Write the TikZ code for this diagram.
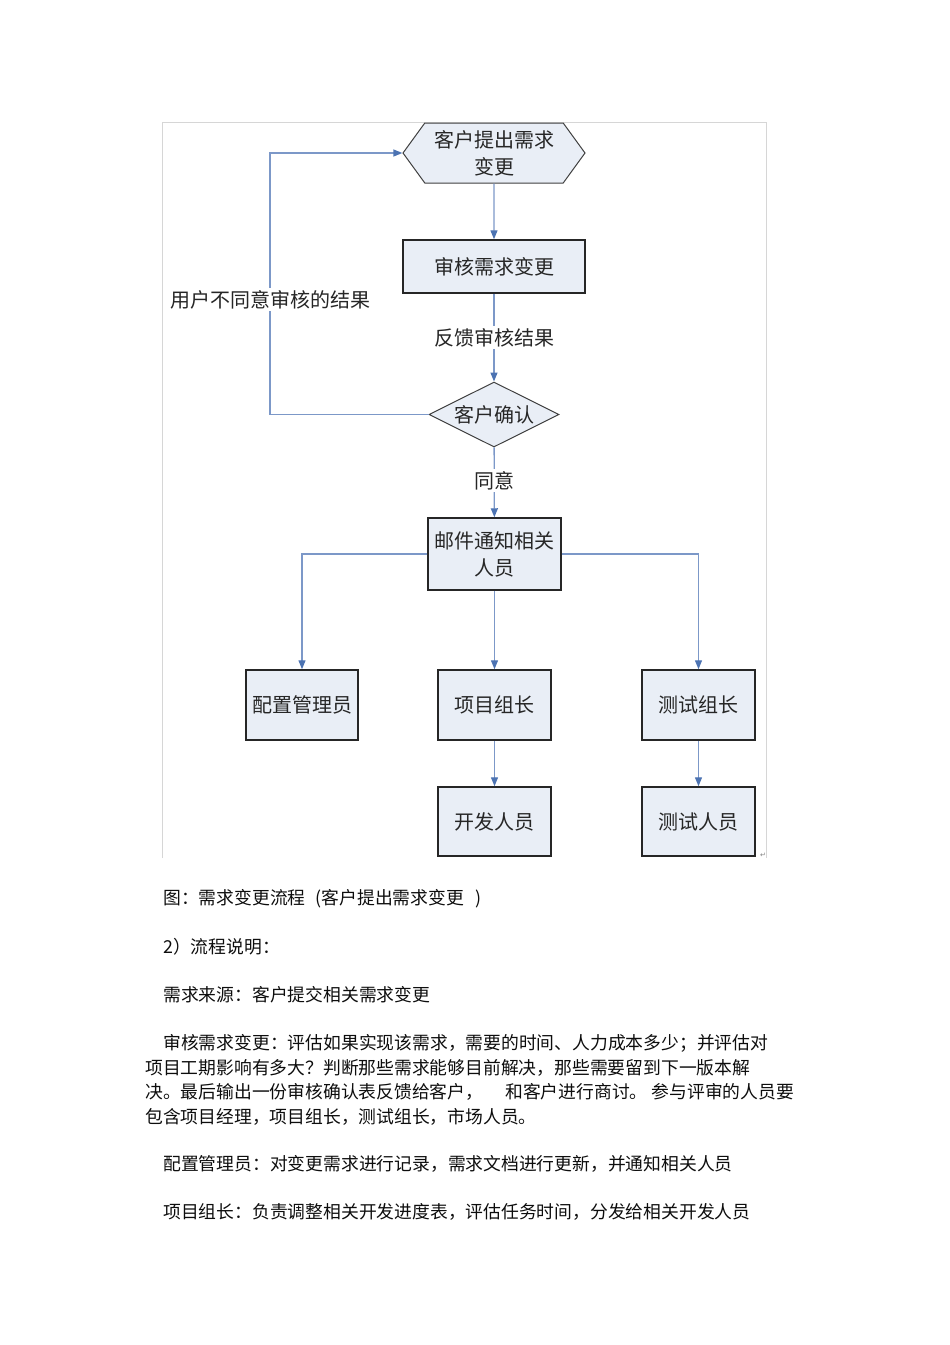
\documentclass[tikz,border=0pt]{standalone}
\usepackage{fontspec}
\setmainfont{Noto Sans CJK SC}
\newfontfamily\symfont{DejaVu Sans}
\usetikzlibrary{shapes.geometric,shapes.symbols,arrows.meta}
\definecolor{boxfill}{HTML}{E9EEF6}
\definecolor{flowblue}{HTML}{7C98C8}
\definecolor{tipblue}{HTML}{4C73B2}
\definecolor{framegray}{HTML}{D6D6D6}
\newcommand{\figfont}{\fontsize{20}{27}\selectfont}
\newcommand{\bodyfont}{\fontsize{17.8}{22}\selectfont}

\begin{document}
\begin{tikzpicture}[x=1pt,y=-1pt,
  flow/.style={draw=flowblue,line width=1.3pt,-{Triangle[length=9pt,width=7pt,color=tipblue]}},
  box/.style={draw=black!85,line width=1.5pt,fill=boxfill,minimum width=113,minimum height=70,inner sep=1pt,font=\figfont,text=black!85,align=center},
  hexa/.style={signal,signal to=east and west,signal pointer angle=108,draw=black!75,line width=1pt,fill=boxfill,minimum width=182,minimum height=60,inner sep=1pt,font=\figfont,text=black!85,align=center},
  decide/.style={diamond,aspect=2,draw=black!75,line width=1pt,fill=boxfill,minimum width=130,minimum height=65,inner sep=0pt,font=\figfont,text=black!85},
  lbl/.style={fill=white,inner sep=2pt,font=\figfont,text=black!85},
  para/.style={anchor=west,inner sep=0pt,font=\bodyfont,text=black!95}]
\useasboundingbox (0,0) rectangle (950,1345);
\draw[framegray,line width=0.8pt] (162,858) -- (162,122) -- (766,122) -- (766,858);

\node[hexa] (start) at (494,153) {客户提出需求\\变更};
\node[box,minimum width=182,minimum height=53] (review) at (494,266.5) {审核需求变更};
\node[decide] (confirm) at (494,414.5) {客户确认};
\node[box,minimum width=133,minimum height=72] (notify) at (494.5,554) {邮件通知相关\\人员};
\node[box,minimum width=112] (cfg) at (302,705) {配置管理员};
\node[box] (plead) at (494.5,705) {项目组长};
\node[box] (tlead) at (698.5,705) {测试组长};
\node[box,minimum height=69] (dev) at (494.5,821.5) {开发人员};
\node[box,minimum height=69] (tester) at (698.5,821.5) {测试人员};
\coordinate (back) at (270,153);

\draw[flow] (start) -- (review);
\draw[flow] (review) -- node[lbl] {反馈审核结果} (confirm);
\draw[flow] (confirm) -- node[lbl,yshift=2pt] {同意} (notify);
\draw[flow] (confirm.west) -| node[lbl,pos=0.72] {用户不同意审核的结果} (back) -- (start.west);
\draw[flow] (notify.west) -| (cfg);
\draw[flow] (notify) -- (plead);
\draw[flow] (notify.east) -| (tlead);
\draw[flow] (plead) -- (dev);
\draw[flow] (tlead) -- (tester);
\node[text=black!50,font=\symfont\fontsize{7}{8}\selectfont] (ret) at (763,855) {↵};

\node[para] (cap) at (163,899) {图：需求变更流程\hspace{6pt} (客户提出需求变更\hspace{8pt} )};
\node[para] (sec) at (163,947) {2）流程说明：};
\node[para] (src) at (163,995) {需求来源：客户提交相关需求变更};
\node[para] (p1a) at (163,1043) {审核需求变更：评估如果实现该需求，需要的时间、人力成本多少；并评估对};
\node[para] (p1b) at (145,1068) {项目工期影响有多大？判断那些需求能够目前解决，那些需要留到下一版本解};
\node[para] (p1c) at (145,1092) {决。最后输出一份审核确认表反馈给客户，\hspace{22pt}和客户进行商讨。 参与评审的人员要};
\node[para] (p1d) at (145,1117) {包含项目经理，项目组长，测试组长，市场人员。};
\node[para] (p2) at (163,1164) {配置管理员：对变更需求进行记录，需求文档进行更新，并通知相关人员};
\node[para] (p3) at (163,1212) {项目组长：负责调整相关开发进度表，评估任务时间，分发给相关开发人员};
\end{tikzpicture}
\end{document}
